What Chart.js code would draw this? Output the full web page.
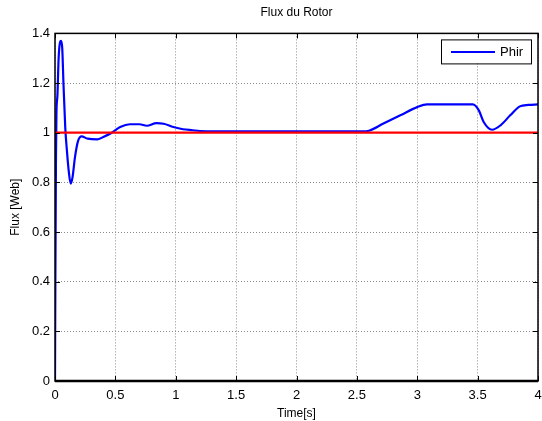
<!DOCTYPE html>
<html>
<head>
<meta charset="utf-8">
<script src="https://cdn.jsdelivr.net/npm/chart.js@4"></script>
<style>
  html, body { margin: 0; padding: 0; background: #fff; }
  #wrap { width: 542px; height: 421px; }
</style>
</head>
<body>
<div id="wrap"><canvas id="fluxChart" width="542" height="421"></canvas></div>
<script>
const timeS = [0, 0.003, 0.008, 0.012, 0.02, 0.03, 0.04, 0.05, 0.06, 0.07, 0.085, 0.1, 0.115, 0.13,
  0.145, 0.165, 0.19, 0.22, 0.27, 0.35, 0.4, 0.47, 0.54, 0.62, 0.7, 0.76, 0.84, 0.9, 0.98, 1.06,
  1.14, 1.2, 1.5, 2.0, 2.55, 2.6, 2.72, 2.86, 3.0, 3.08, 3.46, 3.51, 3.55, 3.62, 3.69, 3.77, 3.85,
  3.92, 4.0];
const phir = [0, 0.4, 0.9, 1.08, 1.15, 1.3, 1.36, 1.37, 1.34, 1.2, 1.02, 0.92, 0.84, 0.795,
  0.82, 0.9, 0.965, 0.985, 0.976, 0.973, 0.983, 1.0, 1.023, 1.034, 1.034, 1.028, 1.039, 1.036, 1.023, 1.014,
  1.01, 1.007, 1.005, 1.005, 1.005, 1.008, 1.037, 1.07, 1.103, 1.114, 1.114, 1.09, 1.043, 1.012, 1.03, 1.07, 1.106,
  1.112, 1.114];
const refTime = [0, 4];
const refFlux = [1, 1];

const xTicks = [0, 0.5, 1, 1.5, 2, 2.5, 3, 3.5, 4];
const yTicks = [0, 0.2, 0.4, 0.6, 0.8, 1, 1.2, 1.4];

const FONT = "'Liberation Sans', Arial, sans-serif";

// cadre noir + petites graduations vers l'interieur, comme matlab
const boxPlugin = {
  id: "boxTicks",
  afterDatasetsDraw(chart) {
    const { ctx, chartArea: a, scales } = chart;
    ctx.save();
    ctx.strokeStyle = "#000";
    ctx.lineWidth = 1;
    ctx.beginPath();
    for (const v of xTicks) {
      const px = Math.round(scales.x.getPixelForValue(v)) + 0.5;
      ctx.moveTo(px, a.bottom); ctx.lineTo(px, a.bottom - 5);
      ctx.moveTo(px, a.top); ctx.lineTo(px, a.top + 5);
    }
    for (const v of yTicks) {
      const py = Math.round(scales.y.getPixelForValue(v)) + 0.5;
      ctx.moveTo(a.left, py); ctx.lineTo(a.left + 5, py);
      ctx.moveTo(a.right, py); ctx.lineTo(a.right - 5, py);
    }
    ctx.stroke();
    ctx.lineWidth = 1.5;
    ctx.strokeRect(a.left, a.top, a.right - a.left, a.bottom - a.top);
    ctx.lineWidth = 2.5;
    ctx.beginPath();
    ctx.moveTo(a.left, a.bottom); ctx.lineTo(a.right, a.bottom);
    ctx.stroke();
    ctx.restore();
  },
  afterDraw(chart) {
    const { ctx, chartArea: a } = chart;
    const ds = chart.data.datasets[0];
    const bx = a.right - 97, by = a.top + 6, bw = 90, bh = 24;
    ctx.save();
    ctx.fillStyle = "#fff";
    ctx.fillRect(bx, by, bw, bh);
    ctx.strokeStyle = "#000";
    ctx.lineWidth = 1;
    ctx.strokeRect(bx + 0.5, by + 0.5, bw, bh);
    ctx.strokeStyle = ds.borderColor;
    ctx.lineWidth = 2;
    ctx.beginPath();
    ctx.moveTo(bx + 10, by + 12.5);
    ctx.lineTo(bx + 54, by + 12.5);
    ctx.stroke();
    ctx.fillStyle = "#000";
    ctx.font = "13px " + FONT;
    ctx.textBaseline = "middle";
    ctx.fillText(ds.label, bx + 59, by + 13);
    ctx.restore();
  },
};

new Chart(document.getElementById("fluxChart"), {
  type: "scatter",
  plugins: [boxPlugin],
  data: {
    datasets: [
      {
        label: "Phir",
        data: timeS.map((t, i) => ({ x: t, y: phir[i] })),
        showLine: true,
        borderColor: "#0000ff",
        borderWidth: 2.2,
        pointRadius: 0,
        cubicInterpolationMode: "monotone",
        order: 2,
      },
      {
        label: "ref",
        data: refTime.map((t, i) => ({ x: t, y: refFlux[i] })),
        showLine: true,
        borderColor: "#ff0000",
        borderWidth: 2.2,
        pointRadius: 0,
        order: 1,
      },
    ],
  },
  options: {
    responsive: false,
    animation: false,
    layout: { padding: { left: 0, right: 4, top: 0, bottom: 0 } },
    plugins: {
      legend: { display: false },
      tooltip: { enabled: false },
      title: {
        display: true,
        text: "Flux du Rotor",
        fullSize: false,
        color: "#000",
        font: { family: FONT, size: 12, weight: "normal" },
        padding: { top: 5, bottom: 14 },
      },
    },
    scales: {
      x: {
        type: "linear",
        min: 0,
        max: 4,
        afterBuildTicks: (s) => { s.ticks = xTicks.map((v) => ({ value: v })); },
        afterFit: (s) => { s.height = 40; s.paddingLeft = 0; s.paddingRight = 0; },
        grid: {
          color: "#8c8c8c",
          lineWidth: 1,
          drawTicks: false,
        },
        border: { display: false, dash: [1, 2] },
        ticks: {
          color: "#000",
          font: { family: FONT, size: 13 },
          padding: 7,
          maxRotation: 0,
          callback: (v) => String(v),
        },
        title: {
          display: true,
          text: "Time[s]",
          color: "#000",
          font: { family: FONT, size: 12 },
          padding: { top: 0, bottom: 0 },
        },
      },
      y: {
        min: 0,
        max: 1.4,
        afterBuildTicks: (s) => { s.ticks = yTicks.map((v) => ({ value: v })); },
        afterFit: (s) => { s.width = 55; s.paddingTop = 0; s.paddingBottom = 0; },
        grid: {
          color: "#8c8c8c",
          lineWidth: 1,
          drawTicks: false,
        },
        border: { display: false, dash: [1, 2] },
        ticks: {
          color: "#000",
          font: { family: FONT, size: 13 },
          padding: 5,
          callback: (v) => String(v),
        },
        title: {
          display: true,
          text: "Flux [Web]",
          color: "#000",
          font: { family: FONT, size: 12 },
          padding: { top: 8, bottom: 0 },
        },
      },
    },
  },
});
</script>
</body>
</html>
